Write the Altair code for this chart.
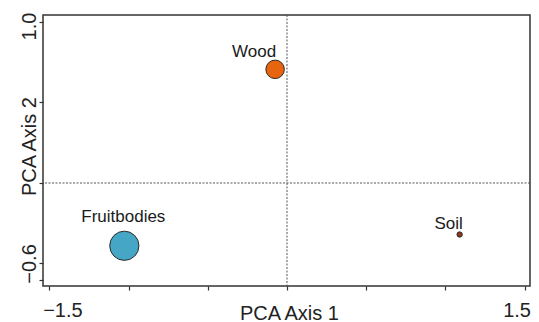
import altair as alt
import pandas as pd

# ---- data ----
samples = ["Wood", "Fruitbodies", "Soil"]
pca1 = [-0.075, -1.027, 1.09]
pca2 = [0.706, -0.39, -0.32]
abundance = [12, 30, 1]
point_colors = ["#E8650F", "#45A6C5", "#8B3A1A"]

x_ticks = [-1.5, -1.0, -0.5, 0.0, 0.5, 1.0, 1.5]
x_tick_text = {-1.5: "\u22121.5", 1.5: "1.5"}
y_ticks = [1.0, 0.5, 0.0, -0.5, -0.6]
y_tick_text = {1.0: "1.0", -0.5: "\u22120.6"}

FONT = "Liberation Sans, Arial, Helvetica, sans-serif"

def label_expr(mapping):
    expr = "''"
    for v, t in reversed(list(mapping.items())):
        expr = f"abs(datum.value - ({v})) < 1e-9 ? '{t}' : {expr}"
    return expr

df = pd.DataFrame({"sample": samples, "pc1": pca1, "pc2": pca2, "abund": abundance})

xscale = alt.Scale(domain=[-1.5404, 1.5342], nice=False, zero=False)
yscale = alt.Scale(domain=[-0.6398, 1.0435], nice=False, zero=False)

xaxis = alt.Axis(
    values=x_ticks, labelExpr=label_expr(x_tick_text), title="PCA Axis 1",
    labelFlush=False,
    labelOffset={"condition": [{"test": "datum.value < -1.4", "value": 13},
                               {"test": "datum.value > 1.4", "value": -8}], "value": 0},
    labelPadding=10, labelBaseline="top",
    titleX=246, titleY=33, titleBaseline="alphabetic", titleAlign="center",
)
yaxis = alt.Axis(
    values=y_ticks, labelExpr=label_expr(y_tick_text), title="PCA Axis 2",
    labelFlush=False,
    labelOffset={"condition": [{"test": "datum.value > 0.9", "value": 4}], "value": 0},
    labelAngle=270, labelAlign="center", labelBaseline="alphabetic", labelPadding=4,
    titleAngle=270, titleX=-8, titleY=131, titleBaseline="alphabetic", titleAlign="center",
)

base = alt.Chart(df)

zero_v = alt.Chart(pd.DataFrame({"z": [0.0]})).mark_rule(
    color="#555", strokeWidth=1, strokeDash=[2, 1.5]
).encode(x=alt.X("z:Q", scale=xscale, axis=xaxis))
zero_h = alt.Chart(pd.DataFrame({"z": [0.0]})).mark_rule(
    color="#555", strokeWidth=1, strokeDash=[2, 1.5]
).encode(y=alt.Y("z:Q", scale=yscale, axis=yaxis))

points = base.mark_circle(opacity=1, stroke="#2b2b2b", strokeWidth=1).encode(
    x=alt.X("pc1:Q", scale=xscale, axis=xaxis),
    y=alt.Y("pc2:Q", scale=yscale, axis=yaxis),
    size=alt.Size("abund:Q", scale=alt.Scale(domain=[0, 30], range=[0, 855], zero=True), legend=None),
    color=alt.Color("sample:N", scale=alt.Scale(domain=samples, range=point_colors), legend=None),
)

offsets = {"Wood": (-21, -12), "Fruitbodies": (-1, -24), "Soil": (-11, -6)}
labels = []
for name, (dx, dy) in offsets.items():
    labels.append(
        base.transform_filter(alt.datum.sample == name).mark_text(
            font=FONT, fontSize=17, color="#1a1a1a", align="center",
            baseline="alphabetic", dx=dx, dy=dy,
        ).encode(
            x=alt.X("pc1:Q", scale=xscale, axis=xaxis),
            y=alt.Y("pc2:Q", scale=yscale, axis=yaxis),
            text="sample:N",
        )
    )

# total width 35 + 487 + 1 = 523 = window width minus the page margins (no shrinking)
chart = alt.layer(zero_v, zero_h, points, *labels).properties(
    width=487, height=271,
    autosize=alt.AutoSizeParams(type="none"),
    padding={"left": 35, "top": 7, "right": 1, "bottom": 36},
).configure_view(
    stroke="#333", strokeWidth=1.5
).configure_axis(
    domain=False, grid=False, ticks=True, tickColor="#333", tickWidth=1.2, tickSize=4,
    labelFont=FONT, labelFontSize=20, labelColor="#222",
    titleFont=FONT, titleFontSize=20, titleFontWeight="normal", titleColor="#222",
)

chart.save("out.html", embed_options={"renderer": "svg", "actions": False})
